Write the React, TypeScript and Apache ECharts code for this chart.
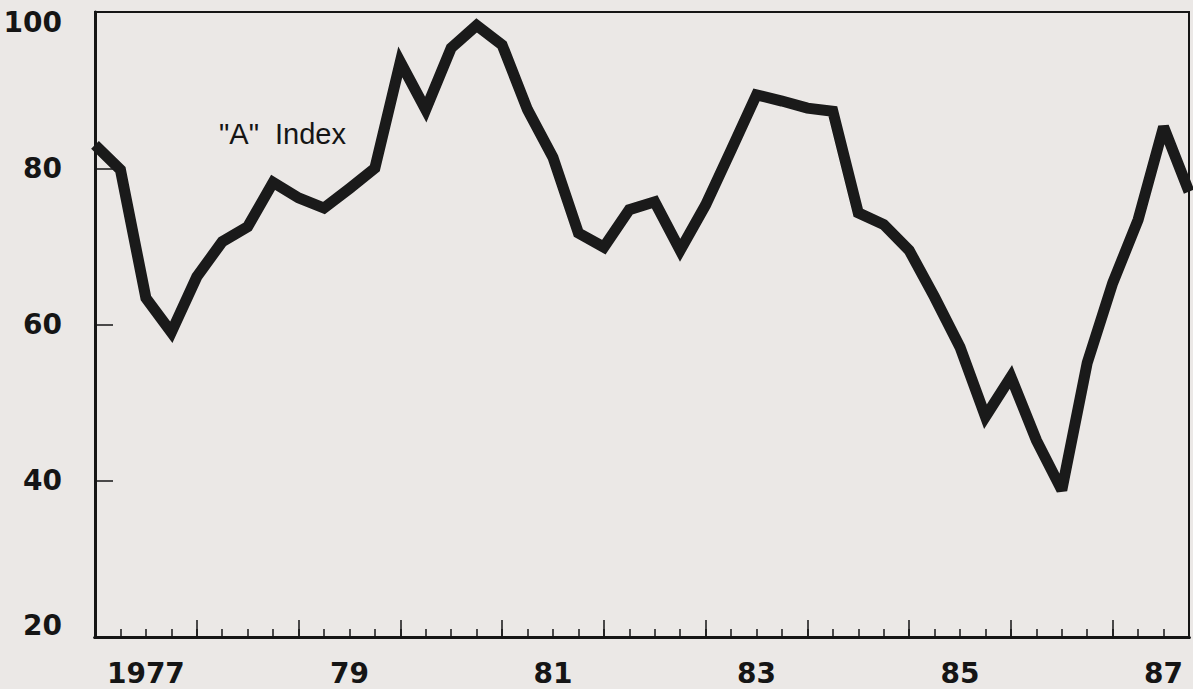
import React, { useEffect, useRef } from "react";
import * as echarts from "echarts";

const quarters = [
  1977.0, 1977.25, 1977.5, 1977.75,
  1978.0, 1978.25, 1978.5, 1978.75,
  1979.0, 1979.25, 1979.5, 1979.75,
  1980.0, 1980.25, 1980.5, 1980.75,
  1981.0, 1981.25, 1981.5, 1981.75,
  1982.0, 1982.25, 1982.5, 1982.75,
  1983.0, 1983.25, 1983.5, 1983.75,
  1984.0, 1984.25, 1984.5, 1984.75,
  1985.0, 1985.25, 1985.5, 1985.75,
  1986.0, 1986.25, 1986.5, 1986.75,
  1987.0, 1987.25, 1987.5, 1987.75,
];

const indexA = [
  83.0, 79.8, 63.4, 59.0,
  66.1, 70.6, 72.5, 78.2,
  76.2, 74.9, 77.4, 80.0,
  93.6, 87.5, 95.4, 98.3,
  95.8, 87.5, 81.4, 71.7,
  69.9, 74.7, 75.7, 69.5,
  75.3, 82.3, 89.4, 88.6,
  87.7, 87.3, 74.3, 72.8,
  69.5, 63.5, 57.1, 48.2,
  53.3, 45.2, 38.8, 55.1,
  65.3, 73.4, 85.3, 77.0,
];

const yearLabels: Record<string, string> = {
  "1977.5": "1977",
  "1979.5": "79",
  "1981.5": "81",
  "1983.5": "83",
  "1985.5": "85",
  "1987.5": "87",
};

const yTicks = [20, 40, 60, 80, 100];
const seriesName = '"A"  Index';

const X_MIN = 1977;
const X_MAX = 1987.75;

export default function App() {
  const ref = useRef<HTMLDivElement>(null);
  useEffect(() => {
    if (!ref.current) return;
    const chart = echarts.init(ref.current, null, { renderer: "svg" });
    const font = "'Liberation Sans', Arial, Helvetica, sans-serif";
    const axisFont = "'DejaVu Sans', 'Liberation Sans', sans-serif";
    const ink = "#151515";
    const baseX = {
      type: "value",
      min: X_MIN,
      max: X_MAX,
      position: "bottom",
      gridIndex: 0,
      splitLine: { show: false },
      axisLine: { show: true, lineStyle: { color: ink, width: 3 } },
    };
    const labelStyle = {
      fontFamily: axisFont,
      fontWeight: "bold",
      fontSize: 28,
      color: ink,
    };
    chart.setOption({
      animation: false,
      backgroundColor: "#ebe8e6",
      grid: {
        left: 95,
        right: 4,
        top: 12,
        bottom: 52,
        show: true,
        borderColor: ink,
        borderWidth: 2,
        backgroundColor: "transparent",
      },
      xAxis: [
        {
          ...baseX,
          interval: 0.25,
          axisTick: { show: true, inside: true, length: 8, lineStyle: { color: ink, width: 1.5 } },
          axisLabel: { show: false },
        },
        {
          ...baseX,
          interval: 1,
          axisTick: { show: true, inside: true, length: 17, lineStyle: { color: ink, width: 1.5 } },
          axisLabel: { show: false },
        },
        {
          ...baseX,
          interval: 0.5,
          axisTick: { show: false },
          axisLabel: {
            show: true,
            margin: 22,
            ...labelStyle,
            showMinLabel: true,
            showMaxLabel: true,
            hideOverlap: false,
            formatter: (v: number) => yearLabels[String(v)] ?? "",
          },
        },
      ],
      yAxis: {
        type: "value",
        min: yTicks[0],
        max: yTicks[yTicks.length - 1],
        interval: 20,
        splitLine: { show: false },
        axisLine: { show: true, lineStyle: { color: ink, width: 3 } },
        axisTick: { show: true, inside: true, length: 18, lineStyle: { color: ink, width: 1.5 } },
        axisLabel: {
          show: true,
          margin: 33,
          ...labelStyle,
          formatter: (v: number) =>
            v === 100 ? "{top|100}" : v === 20 ? "{bot|20}" : String(v),
          rich: {
            top: { ...labelStyle, padding: [20, 0, 0, 0] },
            bot: { ...labelStyle, padding: [0, 0, 24, 0] },
          },
        },
      },
      graphic: [
        {
          type: "text",
          left: 219,
          top: 119,
          style: {
            text: seriesName,
            fontFamily: font,
            fontSize: 29,
            fontWeight: "normal",
            fill: ink,
          },
        },
      ],
      series: [
        {
          name: seriesName,
          type: "line",
          xAxisIndex: 0,
          data: quarters.map((q, i) => [q, indexA[i]]),
          symbol: "none",
          clip: true,
          lineStyle: { color: "#1a1a1a", width: 11, join: "miter", miterLimit: 3 },
        },
      ],
    });
    return () => chart.dispose();
  }, []);
  return (
    <div
      ref={ref}
      style={{ position: "fixed", left: 0, top: 0, width: 1193, height: 689 }}
    />
  );
}
